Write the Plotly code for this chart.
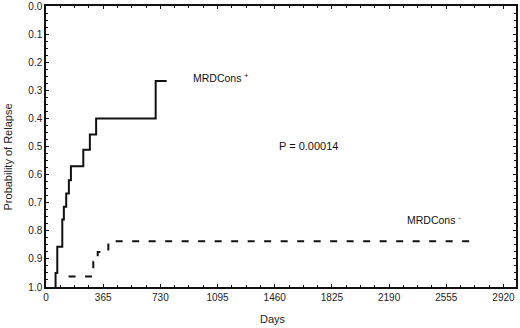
import plotly.graph_objects as go

# MRDCons+ (solid) step curve: days, probability of relapse
pos_days = [61, 72, 104, 114, 129, 146, 159, 238, 280, 320, 700, 770]
pos_prob = [0.95, 0.857, 0.76, 0.714, 0.667, 0.62, 0.57, 0.512, 0.457, 0.40, 0.267, 0.267]
pos_start = 1.0

# MRDCons- (dashed) step curve
neg_days = [144, 302, 330, 398, 2716]
neg_prob = [0.963, 0.91, 0.875, 0.837, 0.837]

x_ticks = [0, 365, 730, 1095, 1460, 1825, 2190, 2555, 2920]
y_ticks = [0.0, 0.1, 0.2, 0.3, 0.4, 0.5, 0.6, 0.7, 0.8, 0.9, 1.0]


def steps(days, probs, start):
    xs, ys = [], []
    prev = start
    for d, p in zip(days, probs):
        xs += [d, d]
        ys += [prev, p]
        prev = p
    return xs, ys


px_, py_ = steps(pos_days, pos_prob, pos_start)
nx, ny = steps(neg_days, neg_prob, neg_prob[0])
nx, ny = nx[1:], ny[1:]

fig = go.Figure()
fig.add_trace(go.Scatter(x=px_, y=py_, mode="lines",
                         line=dict(color="#111", width=2), showlegend=False))
fig.add_trace(go.Scatter(x=nx, y=ny, mode="lines",
                         line=dict(color="#111", width=2, dash="7px,9.5px"),
                         showlegend=False))

font = "Liberation Sans, Arial, sans-serif"
axis_common = dict(showline=True, linecolor="#111", linewidth=1.5, mirror="ticks",
                   ticks="inside", ticklen=3, tickcolor="#111", showgrid=False,
                   zeroline=False, automargin=False,
                   tickfont=dict(family=font, size=10, color="#222"))

fig.update_xaxes(range=[0, 3000], tickvals=x_ticks, ticktext=[str(v) for v in x_ticks],
                 minor=dict(ticks="inside", ticklen=2, dtick=91.25, tick0=0, tickcolor="#111"),
                 **axis_common)
fig.update_yaxes(range=[1.0, 0.0], tickvals=y_ticks, ticktext=[f"{v:.1f}" for v in y_ticks],
                 minor=dict(ticks="inside", ticklen=2, dtick=0.025, tick0=0, tickcolor="#111"),
                 **axis_common)

annots = [
    dict(x=925, y=0.255, xref="x", yref="y", text="MRDCons <sup>+</sup>", xanchor="left",
         showarrow=False, font=dict(family=font, size=10.5, color="#111")),
    dict(x=1678, y=0.497, xref="x", yref="y", text="P = 0.00014", xanchor="center",
         showarrow=False, font=dict(family=font, size=11, color="#111")),
    dict(x=2290, y=0.758, xref="x", yref="y", text="MRDCons <sup>-</sup>", xanchor="left",
         showarrow=False, font=dict(family=font, size=10.5, color="#111")),
    dict(x=0.4825, y=-0.114, xref="paper", yref="paper", text="Days", showarrow=False,
         xanchor="center", yanchor="middle", font=dict(family=font, size=11, color="#222")),
    dict(x=-0.0808, y=0.461, xref="paper", yref="paper", text="Probability of Relapse",
         showarrow=False, textangle=-90, xanchor="center", yanchor="middle",
         font=dict(family=font, size=11, color="#222")),
]
fig.update_layout(width=520, height=328, margin=dict(l=46, r=4, t=6, b=41),
                  paper_bgcolor="white", plot_bgcolor="white", annotations=annots)

fig.write_html("out.html", config={"displayModeBar": False},
               post_script="document.body.style.margin='0';")
